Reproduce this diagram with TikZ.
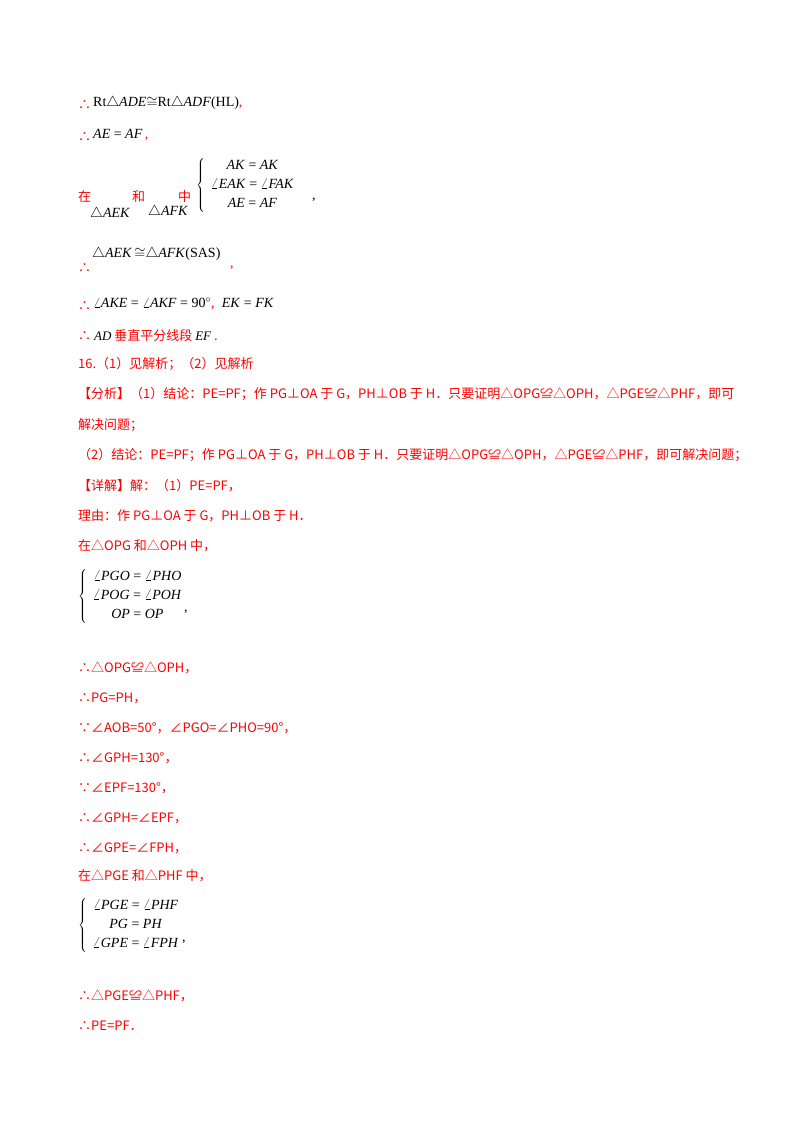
\documentclass[tikz,border=0pt]{standalone}
\usepackage{fontspec}
\setmainfont{Liberation Serif}
\newfontfamily\cjk{Noto Sans CJK SC}
\begin{document}
\begin{tikzpicture}[x=1pt,y=-1pt,
  t/.style={anchor=west,inner sep=0pt,text=red,font=\cjk\fontsize{13}{15}\selectfont},
  m/.style={anchor=west,inner sep=0pt,text=black,font=\fontsize{14}{16}\selectfont}]
\useasboundingbox (0,0) rectangle (800,1132);
\fill[white] (0,0) rectangle (800,1132);
\node[t] (a1) at (78,105) {∴};
\node[m] (a1m) at (93,103) {Rt$\triangle$\textit{ADE}$\cong$Rt$\triangle$\textit{ADF}(HL)\textcolor{red}{,}};
\node[t] (a2) at (78,137) {∴};
\node[m] (a2m) at (93,135) {\textit{AE} = \textit{AF}\,\textcolor{red}{,}};
\node[t] (a3) at (78,197) {在};
\node[t] (a3b) at (132,197) {和};
\node[t] (a3c) at (178,197) {中};
\node[m] (a3d) at (90,214) {$\triangle$\textit{AEK}};
\node[m] (a3e) at (148,212) {$\triangle$\textit{AFK}};
\node[m] (a3f) at (196,185) {$\left\{\begin{tabular}{c}\textit{AK} = \textit{AK}\\[3pt] $\angle$\textit{EAK} = $\angle$\textit{FAK}\\[3pt] \textit{AE} = \textit{AF}\end{tabular}\right.$};
\node[m] (a3g) at (312,200) {,};
\node[t] (a4) at (78,268) {∴};
\node[m] (a4m) at (92,254) {$\triangle$\textit{AEK}\,$\cong$$\triangle$\textit{AFK}(SAS)};
\node[m] (a4c) at (230,268) {\textcolor{red}{,}};
\node[t] (a5) at (78,306) {∴};
\node[m] (a5m) at (93,304) {$\angle$\textit{AKE} = $\angle$\textit{AKF} = 90$^\circ$\textcolor{red}{,}\; \textit{EK} = \textit{FK}};
\node[t] (a6) at (78,336) {∴ \textcolor{black}{\rmfamily\itshape AD} 垂直平分线段 \textcolor{black}{\rmfamily\itshape EF} .};
\node[t] (b0) at (78,364) {16.（1）见解析；（2）见解析};
\node[t] (b1) at (78,394) {【分析】（1）结论：PE=PF；作 PG⊥OA 于 G，PH⊥OB 于 H．只要证明△OPG≌△OPH，△PGE≌△PHF，即可};
\node[t] (b2) at (78,425) {解决问题；};
\node[t] (b3) at (78,455) {（2）结论：PE=PF；作 PG⊥OA 于 G，PH⊥OB 于 H．只要证明△OPG≌△OPH，△PGE≌△PHF，即可解决问题；};
\node[t] (b4) at (78,486) {【详解】解：（1）PE=PF，};
\node[t] (b5) at (78,516) {理由：作 PG⊥OA 于 G，PH⊥OB 于 H．};
\node[t] (b6) at (78,546) {在△OPG 和△OPH 中，};
\node[m] (b7) at (78,596) {$\left\{\begin{tabular}{c}$\angle$\textit{PGO} = $\angle$\textit{PHO}\\[3pt] $\angle$\textit{POG} = $\angle$\textit{POH}\\[3pt] \textit{OP} = \textit{OP}\end{tabular}\right.$};
\node[m] (b7c) at (184,612) {,};
\node[t] (c1) at (78,668) {∴△OPG≌△OPH，};
\node[t] (c2) at (78,698) {∴PG=PH，};
\node[t] (c3) at (78,728) {∵∠AOB=50°，∠PGO=∠PHO=90°，};
\node[t] (c4) at (78,758) {∴∠GPH=130°，};
\node[t] (c5) at (78,788) {∵∠EPF=130°，};
\node[t] (c6) at (78,818) {∴∠GPH=∠EPF，};
\node[t] (c7) at (78,848) {∴∠GPE=∠FPH，};
\node[t] (c8) at (78,876) {在△PGE 和△PHF 中，};
\node[m] (c9) at (78,925) {$\left\{\begin{tabular}{c}$\angle$\textit{PGE} = $\angle$\textit{PHF}\\[3pt] \textit{PG} = \textit{PH}\\[3pt] $\angle$\textit{GPE} = $\angle$\textit{FPH}\end{tabular}\right.$};
\node[m] (c9c) at (182,942) {,};
\node[t] (d1) at (78,996) {∴△PGE≌△PHF，};
\node[t] (d2) at (78,1026) {∴PE=PF．};
\end{tikzpicture}
\end{document}
